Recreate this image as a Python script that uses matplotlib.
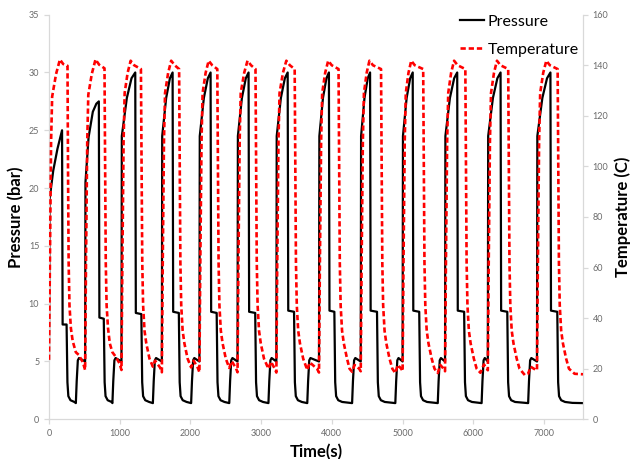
import matplotlib

matplotlib.use("Agg")
import matplotlib.pyplot as plt  # noqa: E402
from matplotlib.lines import Line2D  # noqa: E402

plt.rcParams["font.family"] = ["Lato", "DejaVu Sans"]

# pressure trace (s, bar), one row per cycle
t_pressure = [
    0, 8, 60, 120, 185, 193, 249, 261, 274, 304, 359, 380, 392, 408, 425, 511,
    516, 560, 620, 670, 705, 713, 775, 787, 800, 830, 885, 897, 909, 925, 942, 1025,
    1030, 1101, 1167, 1220, 1228, 1306, 1318, 1331, 1361, 1416, 1469, 1481, 1497, 1514, 1596,
    1601, 1657, 1710, 1748, 1756, 1836, 1848, 1861, 1891, 1946, 2010, 2022, 2038, 2055, 2127,
    2132, 2190, 2246, 2285, 2293, 2371, 2383, 2396, 2426, 2481, 2549, 2561, 2577, 2594, 2666,
    2671, 2728, 2783, 2822, 2830, 2916, 2928, 2941, 2971, 3026, 3103, 3115, 3131, 3148, 3215,
    3220, 3279, 3335, 3375, 3383, 3465, 3477, 3490, 3520, 3575, 3652, 3664, 3680, 3697, 3818,
    3823, 3874, 3923, 3958, 3966, 4035, 4047, 4060, 4090, 4145, 4286, 4298, 4314, 4331, 4408,
    4413, 4461, 4507, 4540, 4548, 4638, 4650, 4663, 4693, 4748, 4897, 4909, 4925, 4942, 5000,
    5005, 5057, 5107, 5143, 5151, 5235, 5247, 5260, 5290, 5345, 5497, 5509, 5525, 5542, 5600,
    5605, 5669, 5729, 5772, 5780, 5870, 5882, 5895, 5925, 5980, 6117, 6129, 6145, 6162, 6205,
    6210, 6277, 6340, 6385, 6393, 6480, 6492, 6505, 6535, 6590, 6775, 6787, 6803, 6820, 6900,
    6905, 6976, 7042, 7090, 7098, 7187, 7199, 7212, 7242, 7297, 7400, 7550,
]
pressure = [
    5.2, 19.0, 21.5, 23.4, 25.0, 8.2, 8.2, 3.2, 2.0, 1.65, 1.5, 1.4, 3.3, 5.1, 5.3, 5.0,
    20.5, 24.4, 26.6, 27.3, 27.5, 8.8, 8.7, 3.2, 2.0, 1.65, 1.5, 1.4, 3.3, 5.1, 5.3, 5.0,
    24.5, 27.8, 29.5, 30.0, 9.2, 9.1, 3.2, 2.0, 1.65, 1.5, 1.4, 3.3, 5.1, 5.3, 5.0,
    24.5, 27.8, 29.5, 30.0, 9.3, 9.2, 3.2, 2.0, 1.65, 1.5, 1.4, 3.3, 5.1, 5.3, 5.0,
    24.5, 27.8, 29.5, 30.0, 9.3, 9.2, 3.2, 2.0, 1.65, 1.5, 1.4, 3.3, 5.1, 5.3, 5.0,
    24.5, 27.8, 29.5, 30.0, 9.3, 9.2, 3.2, 2.0, 1.65, 1.5, 1.4, 3.3, 5.1, 5.3, 5.0,
    24.5, 27.8, 29.5, 30.0, 9.4, 9.3, 3.2, 2.0, 1.65, 1.5, 1.4, 3.3, 5.1, 5.3, 5.0,
    24.5, 27.8, 29.5, 30.0, 9.4, 9.3, 3.2, 2.0, 1.65, 1.5, 1.4, 3.3, 5.1, 5.3, 5.0,
    24.5, 27.8, 29.5, 30.0, 9.4, 9.3, 3.2, 2.0, 1.65, 1.5, 1.4, 3.3, 5.1, 5.3, 5.0,
    24.5, 27.8, 29.5, 30.0, 9.4, 9.3, 3.2, 2.0, 1.65, 1.5, 1.4, 3.3, 5.1, 5.3, 5.0,
    24.5, 27.8, 29.5, 30.0, 9.4, 9.3, 3.2, 2.0, 1.65, 1.5, 1.4, 3.3, 5.1, 5.3, 5.0,
    24.5, 27.8, 29.5, 30.0, 9.4, 9.3, 3.2, 2.0, 1.65, 1.5, 1.4, 3.3, 5.1, 5.3, 5.0,
    24.5, 27.8, 29.5, 30.0, 9.4, 9.3, 3.2, 2.0, 1.65, 1.5, 1.42, 1.4,
]

# temperature trace (s, C), one row per cycle
t_temp = [
    0, 12, 30, 45, 100, 155, 200, 262, 270, 278, 290, 310, 335, 380, 420, 480, 511,
    523, 541, 556, 605, 658, 710, 785, 795, 803, 815, 835, 860, 897, 937, 1000, 1025,
    1037, 1055, 1070, 1112, 1155, 1205, 1300, 1311, 1319, 1331, 1351, 1376, 1421, 1469, 1500, 1570, 1596,
    1608, 1626, 1641, 1685, 1728, 1778, 1840, 1850, 1858, 1870, 1890, 1915, 1960, 2010, 2045, 2105, 2127,
    2139, 2157, 2172, 2215, 2258, 2308, 2380, 2390, 2398, 2410, 2430, 2455, 2500, 2549, 2584, 2644, 2666,
    2678, 2696, 2711, 2760, 2807, 2857, 2920, 2930, 2938, 2950, 2970, 2995, 3040, 3103, 3138, 3193, 3215,
    3227, 3245, 3260, 3308, 3356, 3406, 3474, 3484, 3492, 3504, 3524, 3549, 3594, 3652, 3687, 3790, 3818,
    3830, 3848, 3863, 3905, 3948, 3998, 4094, 4104, 4112, 4124, 4144, 4169, 4214, 4250, 4286, 4321, 4386, 4408,
    4420, 4438, 4453, 4492, 4531, 4581, 4695, 4705, 4713, 4725, 4745, 4770, 4815, 4855, 4897, 4932, 4980, 5000,
    5012, 5030, 5045, 5083, 5122, 5172, 5291, 5301, 5309, 5321, 5341, 5366, 5411, 5451, 5497, 5532, 5580, 5600,
    5612, 5630, 5645, 5686, 5728, 5778, 5887, 5897, 5905, 5917, 5937, 5962, 6007, 6047, 6100, 6150, 6190, 6205,
    6217, 6235, 6250, 6292, 6334, 6384, 6493, 6503, 6511, 6523, 6543, 6568, 6613, 6653, 6728, 6775, 6810, 6880, 6900,
    6912, 6930, 6945, 6988, 7032, 7082, 7192, 7202, 7210, 7222, 7242, 7267, 7312, 7352, 7432, 7550,
]
temperature = [
    23.5, 60, 110, 127.6, 136.5, 142.3, 140.5, 139.8, 95, 62, 45, 36, 31, 26.5, 25.5, 22.5, 19.5,
    60, 110, 128.3, 136.5, 142.3, 140.2, 138.8, 95, 62, 45, 36, 30, 26.5, 25.0, 22.0, 19.5,
    60, 110, 129, 137, 141.8, 140, 138.5, 95, 62, 45, 35, 30, 24, 20.8, 23.2, 20.5, 18.6,
    60, 110, 129, 137, 141.8, 140, 138.5, 95, 62, 45, 35, 30, 24, 20.5, 23.2, 20.3, 18.6,
    60, 110, 129, 137, 141.8, 140, 138.5, 95, 62, 45, 35, 30, 24, 20.3, 23.0, 20.2, 18.6,
    60, 110, 129, 137, 141.8, 140, 138.5, 95, 62, 45, 35, 30, 24, 20.0, 22.8, 20.0, 18.5,
    60, 110, 129, 137, 141.8, 140, 138.5, 95, 62, 45, 35, 30, 24, 19.5, 22.5, 20.0, 18.5,
    60, 110, 129, 137, 141.8, 140, 138.5, 95, 62, 45, 35, 30, 24, 20, 18.8, 21.5, 20, 19.0,
    60, 110, 129, 137, 141.8, 140, 138.5, 95, 62, 45, 35, 30, 24, 20, 18.3, 21.5, 20, 19.0,
    60, 110, 129, 137, 141.8, 140, 138.5, 95, 62, 45, 35, 30, 24, 20, 18.3, 21.5, 20, 19.0,
    60, 110, 129, 137, 141.8, 140, 138.5, 95, 62, 45, 35, 30, 24, 20, 18.4, 21.7, 20, 19.4,
    60, 110, 129, 137, 141.8, 140, 138.5, 95, 62, 45, 35, 30, 24, 20, 17.5, 18.0, 20.8, 19.6, 19.4,
    60, 110, 129, 137, 141.8, 140, 138.5, 95, 62, 45, 35, 30, 24, 20, 18.0, 17.8,
]

x_ticks = [0, 1000, 2000, 3000, 4000, 5000, 6000, 7000]
p_ticks = [0, 5, 10, 15, 20, 25, 30, 35]
t_ticks = [0, 20, 40, 60, 80, 100, 120, 140, 160]

GREY = "#d9d9d9"
TICK_TXT = "#6b6b6b"

fig = plt.figure(figsize=(6.36, 4.59), dpi=100)
ax = fig.add_axes([0.077, 0.0865, 0.8396, 0.8815])
ax2 = ax.twinx()

ax.plot(t_pressure, pressure, color="black", lw=1.6, solid_joinstyle="round", zorder=2)
ax2.plot(t_temp, temperature, color="#ff0000", lw=1.9, linestyle=(0, (2.0, 1.1)), zorder=3)

ax.set_xlim(0, 7550)
ax.set_ylim(0, 35)
ax2.set_ylim(0, 160)
ax.set_xticks(x_ticks)
ax.set_yticks(p_ticks)
ax2.set_yticks(t_ticks)

for a in (ax, ax2):
    a.spines["top"].set_visible(False)
    for side in ("left", "right", "bottom"):
        a.spines[side].set_color(GREY)
        a.spines[side].set_linewidth(0.9)
    a.tick_params(colors=GREY, labelcolor=TICK_TXT, labelsize=6.5, length=3.5, width=0.9)
ax.spines["right"].set_visible(False)
ax2.spines["left"].set_visible(False)
ax2.spines["bottom"].set_visible(False)

ax.set_xlabel("Time(s)", fontsize=12, fontweight="bold", labelpad=4)
ax.set_ylabel("Pressure (bar)", fontsize=12, fontweight="bold", labelpad=3)
ax2.set_ylabel("Temperature (C)", fontsize=12, fontweight="bold", labelpad=4)

handles = [
    Line2D([], [], color="black", lw=1.6),
    Line2D([], [], color="#ff0000", lw=1.9, linestyle=(0, (2.0, 1.1))),
]
ax2.legend(handles, ["Pressure", "Temperature"], loc="upper left",
           bbox_to_anchor=(0.77, 1.0), frameon=False, fontsize=11.5,
           handlelength=1.5, handletextpad=0.2, labelspacing=0.85,
           borderpad=0, borderaxespad=0)

fig.savefig("out.png", dpi=100)
